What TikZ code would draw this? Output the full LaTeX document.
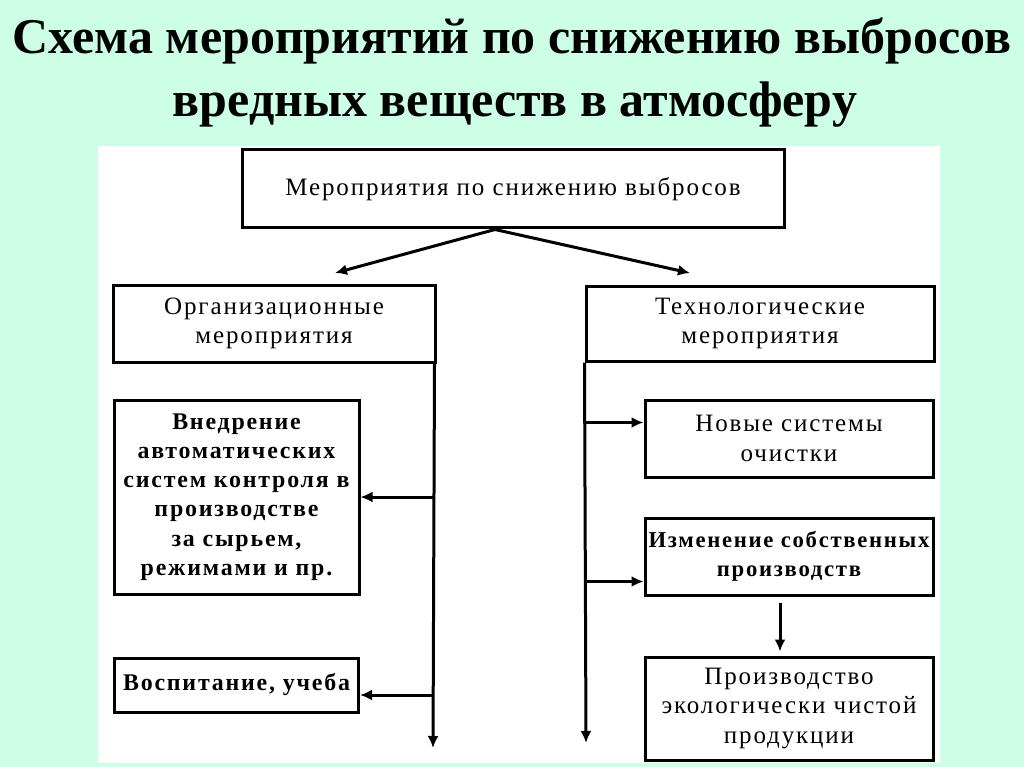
\documentclass[tikz,border=0pt]{standalone}
\usepackage{fontspec}
\setmainfont{Liberation Serif}
\newfontfamily\boxfont[LetterSpace=7.5]{Liberation Serif}
\usetikzlibrary{positioning,arrows.meta}
\definecolor{mint}{RGB}{204,255,230}

\tikzset{
  box/.style={rectangle,draw,line width=3pt,align=center,inner sep=0pt,font=\fontsize{25}{29.5}\boxfont},
  boldbox/.style={box,font=\fontsize{23.9}{29.2}\boxfont\bfseries},
  arr/.style={line width=3pt,-{Latex[length=12pt,width=11pt]}}
}

\begin{document}
\begin{tikzpicture}[x=1pt,y=-1pt]

\fill[mint] (0,0) rectangle (1024,767);
\fill[white] (98,146) rectangle (940,763);
\useasboundingbox (0,0) rectangle (1024,767);

% Title
\node[anchor=base,inner sep=0pt,font=\fontsize{50}{60}\selectfont\bfseries] (title1) at (512,54) {Схема мероприятий по снижению выбросов};
\node[anchor=base,inner sep=0pt,font=\fontsize{50}{60}\selectfont\bfseries] (title2) at (515,117) {вредных веществ в атмосферу};

% Top level
\node[box,minimum width=542pt,minimum height=78pt] (top) at (513,189) {Мероприятия по снижению выбросов};

\node[box,minimum width=322pt,minimum height=77pt] (org) at (274,323.5) {Организационные\\мероприятия};

\node[box,minimum width=348pt,minimum height=75pt] (tech) at (760,323.5) {Технологические\\мероприятия};

\coordinate (topout) at ([xshift=-18pt]top.south);
\coordinate (orgtip) at (335,273);
\coordinate (techtip) at (690,273);

\draw[arr] (topout) -- (orgtip);
\draw[arr] (topout) -- (techtip);

% Organizational branch
\node[boldbox,minimum width=245pt,minimum height=194pt] (vnedr) at (236.5,497) {Внедрение\\автоматических\\систем контроля в\\производстве\\за сырьем,\\режимами и пр.};

\node[boldbox,below=61pt of vnedr,minimum width=244pt,minimum height=54pt] (vosp) {Воспитание, учеба};

\coordinate (orgend) at (433,748);
\coordinate (vospin) at ([yshift=-10pt]vosp.east);

\draw[arr] ([xshift=-2pt]org.south east) -- (orgend);
\draw[arr] (orgend |- vnedr.east) -- (vnedr.east);
\draw[arr] (orgend |- vospin) -- (vospin);

% Technological branch
\node[box,minimum width=288pt,minimum height=77pt] (novye) at (789,438.5) {Новые системы\\очистки};

\node[boldbox,below=38pt of novye,minimum width=288pt,minimum height=77pt,font=\fontsize{22.7}{29}\boxfont\bfseries] (izm) {Изменение собственных\\производств};

\node[box,below=59pt of izm,minimum width=288pt,minimum height=103pt] (proizv) {Производство\\экологически чистой\\продукции};

\coordinate (techend) at (586,743);
\coordinate (novyein) at ([yshift=16pt]novye.west);
\coordinate (izmin) at ([yshift=-25pt]izm.west);
\coordinate (izmout) at ([xshift=-9pt,yshift=-6pt]izm.south);
\coordinate (proizvin) at ([xshift=-9pt,yshift=4pt]proizv.north);

\draw[arr] (tech.south west) -- (techend);
\draw[arr] (techend |- novyein) -- (novyein);
\draw[arr] (techend |- izmin) -- (izmin);
\draw[arr] (izmout) -- (proizvin);

\end{tikzpicture}
\end{document}
